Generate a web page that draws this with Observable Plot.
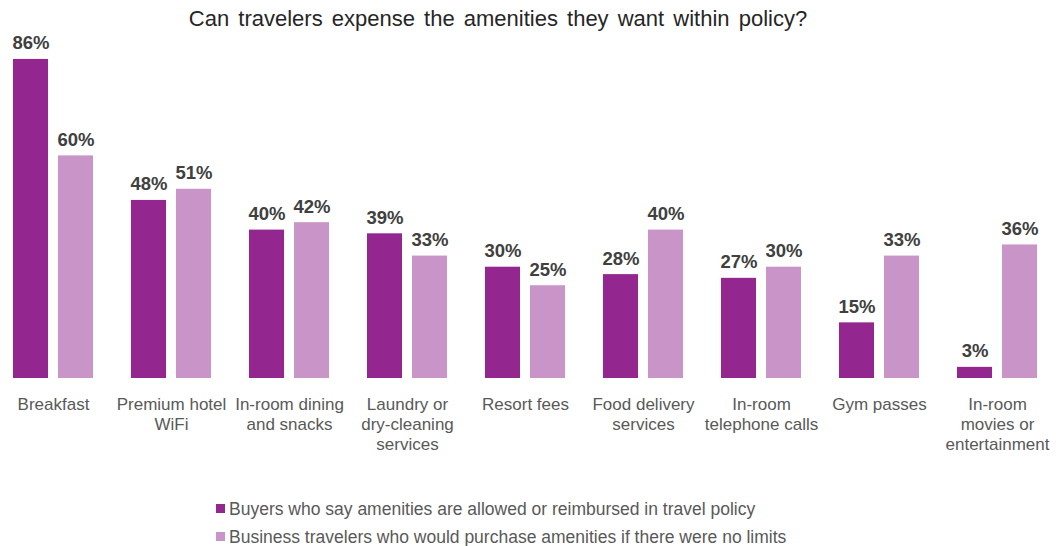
<!DOCTYPE html>
<html>
<head>
<meta charset="utf-8">
<script src="https://cdn.jsdelivr.net/npm/d3@7"></script>
<script src="https://cdn.jsdelivr.net/npm/@observablehq/plot@0.6"></script>
<style>
  html, body { margin: 0; padding: 0; background: #fff; }
  body { width: 1056px; height: 546px; position: relative; overflow: hidden; font-family: "Liberation Sans", Arial, sans-serif; }
  #title { position: absolute; top: 0; left: 0; width: 996px; text-align: center; font-size: 22px; word-spacing: 3px; line-height: 38px; color: #262626; z-index: 2; }
  #chart { position: absolute; top: 0; left: 0; z-index: 1; }
  #legend { position: absolute; top: 495px; left: 216px; font-size: 17.5px; color: #595959; z-index: 2; }
  .row { position: relative; height: 28px; line-height: 28px; white-space: nowrap; }
  .sw { position: absolute; left: 0; top: 9px; width: 9px; height: 9px; }
  .lt { position: absolute; left: 13px; top: 0; }
</style>
</head>
<body>
<div id="chart"></div>
<div id="title">Can travelers expense the amenities they want within policy?</div>
<div id="legend"></div>
<script>
const categories = [
  "Breakfast",
  "Premium hotel\nWiFi",
  "In-room dining\nand snacks",
  "Laundry or\ndry-cleaning\nservices",
  "Resort fees",
  "Food delivery\nservices",
  "In-room\ntelephone calls",
  "Gym passes",
  "In-room\nmovies or\nentertainment"
];
const seriesNames = [
  "Buyers who say amenities are allowed or reimbursed in travel policy",
  "Business travelers who would purchase amenities if there were no limits"
];
const buyersValues = [86, 48, 40, 39, 30, 28, 27, 15, 3];
const travelersValues = [60, 51, 42, 33, 25, 40, 30, 33, 36];
const colors = ["#93278F", "#C994C7"];

const data = [];
categories.forEach((c, i) => {
  data.push({category: c, series: seriesNames[0], value: buyersValues[i]});
  data.push({category: c, series: seriesNames[1], value: travelersValues[i]});
});
const cats = categories.map(c => ({category: c}));

const chart = Plot.plot({
  width: 1056,
  height: 460,
  marginTop: 0,
  marginBottom: 82,
  marginLeft: 0,
  marginRight: 0,
  style: {fontFamily: '"Liberation Sans", Arial, sans-serif', background: "transparent"},
  fx: {domain: categories, range: [-6, 1056], paddingInner: 0, paddingOuter: 0, axis: null},
  x: {domain: seriesNames, paddingInner: 0.222, paddingOuter: 0.422, axis: null},
  y: {domain: [0, 100], range: [378, 7], axis: null},
  color: {domain: seriesNames, range: colors},
  marks: [
    Plot.barY(data, {fx: "category", x: "series", y: "value", fill: "series"}),
    Plot.text(data, {fx: "category", x: "series", y: "value", text: d => d.value + "%",
      lineAnchor: "bottom", dy: -10, fontSize: 18.5, fontWeight: "bold", fill: "#404040"}),
    Plot.text(cats, {fx: "category", text: "category", frameAnchor: "bottom",
      lineAnchor: "top", dy: 17, fontSize: 17, lineHeight: 1.18, fill: "#595959"})
  ]
});
document.getElementById("chart").appendChild(chart);

const legend = document.getElementById("legend");
seriesNames.forEach((s, i) => {
  const row = document.createElement("div");
  row.className = "row";
  const sw = document.createElement("span");
  sw.className = "sw";
  sw.style.background = colors[i];
  const t = document.createElement("span");
  t.className = "lt";
  t.textContent = s;
  row.appendChild(sw);
  row.appendChild(t);
  legend.appendChild(row);
});
</script>
</body>
</html>
